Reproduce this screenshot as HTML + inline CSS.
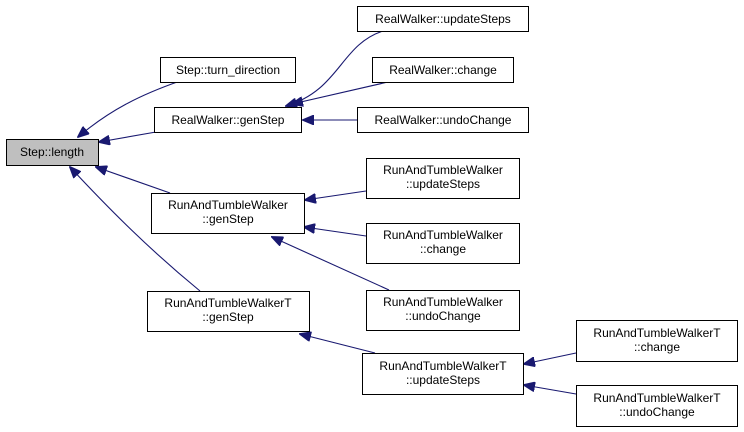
<!DOCTYPE html>
<html><head><meta charset="utf-8"><style>
html,body{margin:0;padding:0;background:#fff;}
svg{display:block;}
text{font-family:"Liberation Sans",Arial,sans-serif;font-size:12px;fill:#000;}
</style></head><body>
<svg width="744" height="432" viewBox="0 0 744 432" xmlns="http://www.w3.org/2000/svg">
<defs>
<marker id="a" markerWidth="12" markerHeight="10" refX="11" refY="5" orient="auto" markerUnits="userSpaceOnUse">
<path d="M0,0 L12,5 L0,10 Z" fill="#191970" stroke="#191970"/>
</marker>
</defs>
<g fill="none" stroke="#191970" stroke-width="1.1" marker-end="url(#a)">
<path d="M180,81 C140,95 110,110 78,137"/>
<path d="M156,132 L99,142"/>
<path d="M170,193 L96,167"/>
<path d="M200,291 C150,250 110,210 70,167"/>
<path d="M383,31 C340,45 340,90 286,106"/>
<path d="M388,82 L292,104"/>
<path d="M357,120 L303,120"/>
<path d="M366,191 L305,200"/>
<path d="M366,236 L304,227"/>
<path d="M389,290 L272,237"/>
<path d="M375,353 L300,334"/>
<path d="M576,353 L524,364"/>
<path d="M576,394 L524,385"/>
</g>
<g stroke="#000" stroke-width="1" fill="#fff">
<rect x="6.5" y="139.5" width="92" height="26" fill="#bfbfbf"/>
<rect x="160.5" y="57.5" width="135" height="25"/>
<rect x="154.5" y="107.5" width="147" height="25"/>
<rect x="151.5" y="193.5" width="153" height="40"/>
<rect x="147.5" y="291.5" width="162" height="40"/>
<rect x="357.5" y="6.5" width="171" height="25"/>
<rect x="372.5" y="57.5" width="141" height="25"/>
<rect x="357.5" y="107.5" width="171" height="25"/>
<rect x="366.5" y="158.5" width="153" height="40"/>
<rect x="366.5" y="223.5" width="153" height="40"/>
<rect x="366.5" y="290.5" width="153" height="40"/>
<rect x="362.5" y="353.5" width="161" height="41"/>
<rect x="576.5" y="320.5" width="161" height="41"/>
<rect x="576.5" y="385.5" width="161" height="41"/>
</g>
<g text-anchor="middle">
<text x="52" y="156">Step::length</text>
<text x="228" y="74">Step::turn_direction</text>
<text x="228" y="124">RealWalker::genStep</text>
<text x="228" y="209">RunAndTumbleWalker</text><text x="228" y="223">::genStep</text>
<text x="228" y="307">RunAndTumbleWalkerT</text><text x="228" y="321">::genStep</text>
<text x="443" y="23">RealWalker::updateSteps</text>
<text x="443" y="74">RealWalker::change</text>
<text x="443" y="124">RealWalker::undoChange</text>
<text x="443" y="174">RunAndTumbleWalker</text><text x="443" y="188">::updateSteps</text>
<text x="443" y="239">RunAndTumbleWalker</text><text x="443" y="253">::change</text>
<text x="443" y="306">RunAndTumbleWalker</text><text x="443" y="320">::undoChange</text>
<text x="443" y="370">RunAndTumbleWalkerT</text><text x="443" y="384">::updateSteps</text>
<text x="657" y="337">RunAndTumbleWalkerT</text><text x="657" y="351">::change</text>
<text x="657" y="402">RunAndTumbleWalkerT</text><text x="657" y="416">::undoChange</text>
</g>
</svg>
</body></html>
